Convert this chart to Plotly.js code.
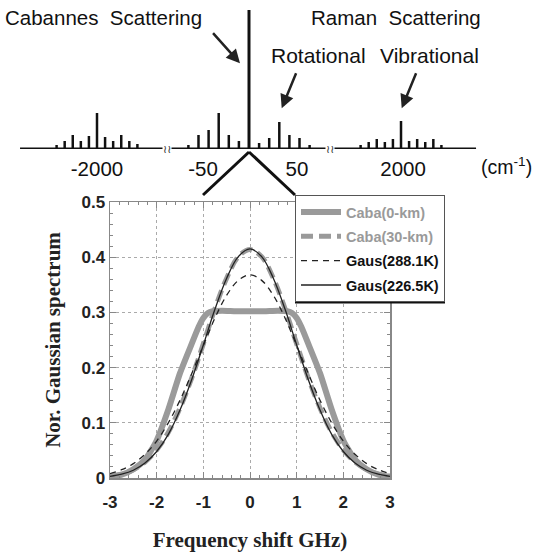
<!DOCTYPE html>
<html>
<head>
<meta charset="utf-8">
<script src="https://cdn.plot.ly/plotly-3.0.1.min.js"></script>
<style>html,body{margin:0;padding:0;background:#fff;}#chart{width:535px;height:560px;}</style>
</head>
<body>
<div id="chart"></div>
<script>
// ---------- main plot data (frequency shift in GHz) ----------
const xCaba0 = [-3,-2.75,-2.5,-2.25,-2,-1.75,-1.5,-1.25,-1.1,-1,-0.9,-0.8,-0.6,-0.3,0,0.3,0.6,0.8,0.9,1,1.1,1.25,1.5,1.75,2,2.25,2.5,2.75,3];
const yCaba0 = [0.002,0.006,0.016,0.033,0.068,0.124,0.19,0.243,0.274,0.29,0.299,0.302,0.303,0.302,0.302,0.302,0.303,0.302,0.299,0.29,0.274,0.243,0.19,0.124,0.068,0.033,0.016,0.006,0.002];
const xGrid = [-3,-2.75,-2.5,-2.25,-2,-1.75,-1.5,-1.25,-1,-0.75,-0.5,-0.25,0,0.25,0.5,0.75,1,1.25,1.5,1.75,2,2.25,2.5,2.75,3];
const yCaba30 = [0.003,0.007,0.015,0.029,0.051,0.083,0.127,0.181,0.243,0.307,0.362,0.401,0.414,0.401,0.362,0.307,0.243,0.181,0.127,0.083,0.051,0.029,0.015,0.007,0.003];
const yGaus288 = [0.008,0.015,0.026,0.043,0.067,0.100,0.141,0.189,0.240,0.290,0.331,0.358,0.368,0.358,0.331,0.290,0.240,0.189,0.141,0.100,0.067,0.043,0.026,0.015,0.008];
const yGaus226 = [0.003,0.007,0.014,0.027,0.048,0.079,0.123,0.178,0.241,0.306,0.362,0.401,0.415,0.401,0.362,0.306,0.241,0.178,0.123,0.079,0.048,0.027,0.014,0.007,0.003];
const seriesNames = ['Caba(0-km)','Caba(30-km)','Gaus(288.1K)','Gaus(226.5K)'];
const xTickVals = [-3,-2,-1,0,1,2,3];
const xTickText = ['-3','-2','-1','0','1','2','3'];

// ---------- schematic spectrum data (schematic units, relative intensity) ----------
const cabPos = [0];
const cabInt = [139];
const rotPos = [-6,-5,-4,-3,-2,-1,1,2,3,4,5,6];
const rotInt = [4,14,19,36,14,8,6,11,27,14,11,4];
const vibOffset = [-5,-4,-3,-2,-1,0,1,2,3,4,5];
const vibLeftInt = [4,8,14,8,13,36,12,8,14,8,5];
const vibRightInt = [4,7,10,7,10,28,8,10,7,10,4];
const vibCenters = [-15.05, 15.05];
const vibSpacing = 0.8;
const specTickVals = [-15.05,-4.55,4.75,15.25];
const specTickText = ['-2000','-50','50','2000'];
const baseSegX = [-22.67,-8.51,null,-7.72,7.62,null,8.32,22.48];
const baseSegY = [0,0,null,0,0,null,0,0];
const breakPos = [-8.1, 7.97];

function sticks(pos, ints){
  const xs=[], ys=[];
  pos.forEach((p,i)=>{xs.push(p,p,null); ys.push(0,ints[i],null);});
  return {x:xs,y:ys};
}
const vibL = sticks(vibOffset.map(o=>vibCenters[0]+o*vibSpacing), vibLeftInt);
const vibR = sticks(vibOffset.map(o=>vibCenters[1]+o*vibSpacing), vibRightInt);
const rot = sticks(rotPos, rotInt);
const cab = sticks(cabPos, cabInt);

const W=535, H=560;
const px = v => v/W, py = v => 1 - v/H;
const sans = 'Liberation Sans, Arial, sans-serif';
const serif = 'Liberation Serif, Times New Roman, serif';

const stickStyle = {color:'#111', width:2.5};
const traces = [
  {x:xCaba0, y:yCaba0, name:'<span style="color:#9a9a9a">'+seriesNames[0]+'</span>', mode:'lines', line:{color:'#9a9a9a', width:6, shape:'spline', smoothing:0.6}, legendgroup:'a'},
  {x:xGrid, y:yCaba30, name:'<span style="color:#9a9a9a">'+seriesNames[1]+'</span>', mode:'lines', line:{color:'#9a9a9a', width:5, dash:'12px,6px', shape:'spline'}, legendgroup:'b'},
  {x:xGrid, y:yGaus288, name:seriesNames[2], mode:'lines', line:{color:'#222', width:1.3, dash:'6px,5px', shape:'spline'}, legendgroup:'c'},
  {x:xGrid, y:yGaus226, name:seriesNames[3], mode:'lines', line:{color:'#222', width:1.3, shape:'spline'}, legendgroup:'d'},
  {x:baseSegX, y:baseSegY, xaxis:'x2', yaxis:'y2', mode:'lines', line:{color:'#111', width:3}, showlegend:false, hoverinfo:'skip'},
  {x:vibL.x, y:vibL.y, xaxis:'x2', yaxis:'y2', mode:'lines', line:stickStyle, showlegend:false, hoverinfo:'skip'},
  {x:rot.x, y:rot.y, xaxis:'x2', yaxis:'y2', mode:'lines', line:stickStyle, showlegend:false, hoverinfo:'skip'},
  {x:cab.x, y:cab.y, xaxis:'x2', yaxis:'y2', mode:'lines', line:{color:'#111', width:3}, showlegend:false, hoverinfo:'skip'},
  {x:vibR.x, y:vibR.y, xaxis:'x2', yaxis:'y2', mode:'lines', line:stickStyle, showlegend:false, hoverinfo:'skip'}
];

const txt = (t,x,y,size,anchor)=>({text:t, x:px(x), y:py(y), xref:'paper', yref:'paper', showarrow:false, font:{family:sans, size:size, color:'#111'}, xanchor:anchor||'center', yanchor:'middle'});
const arrow = (hx,hy,tx,ty)=>({text:'', x:px(hx), y:py(hy), xref:'paper', yref:'paper', ax:tx-hx, ay:ty-hy, axref:'pixel', ayref:'pixel', showarrow:true, arrowhead:2, arrowsize:1.1, arrowwidth:2.5, arrowcolor:'#222', standoff:0, startstandoff:0});

const annotations = [
  txt('Cabannes\u00a0\u00a0Scattering',103,17,20.5),
  txt('Raman\u00a0\u00a0Scattering',396,17,20.5),
  txt('Rotational',318,56,21),
  txt('Vibrational',429,56,21),
  txt('(cm<sup>-1</sup>)',534,166,19.5,'right'),
  arrow(240,63.3,211.7,31.7),
  arrow(281.7,108.3,296.7,71.7),
  arrow(401.7,108.3,416.7,71.7)
].concat(breakPos.map(b=>({text:'\u2240\u2240', x:b, y:0, xref:'x2', yref:'y2', showarrow:false, font:{family:'DejaVu Sans', size:11, color:'#333'}, bgcolor:'#fff', borderpad:0, xanchor:'center', yanchor:'middle'})));

const shapes = [
  {type:'line', xref:'paper', yref:'paper', x0:px(249), y0:py(152), x1:px(203), y1:py(195), line:{color:'#111', width:3}},
  {type:'line', xref:'paper', yref:'paper', x0:px(249), y0:py(152), x1:px(295), y1:py(195), line:{color:'#111', width:3}},
  {type:'line', xref:'paper', yref:'paper', x0:px(295), y0:py(302), x1:px(445), y1:py(302), line:{color:'#111', width:3}, layer:'above'}
];

const axisCommon = {
  showline:true, linecolor:'#888', linewidth:1.5, mirror:'allticks',
  ticks:'inside', ticklen:6, tickcolor:'#888', tickwidth:1,
  showgrid:true, gridcolor:'#aaa', griddash:'dot', gridwidth:1,
  zeroline:false, automargin:false,
  tickfont:{family:sans, size:17, weight:'bold', color:'#222'}
};

const layout = {
  width:W, height:H, margin:{l:0,r:0,t:0,b:0},
  paper_bgcolor:'#fff', plot_bgcolor:'#fff',
  xaxis:Object.assign({}, axisCommon, {domain:[px(110), px(390)], range:[-3,3], tickvals:xTickVals, ticktext:xTickText,
    ticklabelstandoff:8,
    minor:{dtick:0.2, ticks:'inside', ticklen:3, tickcolor:'#888', showgrid:false},
    title:{text:'Frequency shift GHz)', standoff:21, font:{family:serif, size:21, weight:'bold', color:'#222'}}}),
  yaxis:Object.assign({}, axisCommon, {domain:[py(478), py(202)], range:[0,0.5], dtick:0.1,
    minor:{dtick:0.02, ticks:'inside', ticklen:3, tickcolor:'#888', showgrid:false},
    title:{text:'Nor. Gaussian spectrum', standoff:15, font:{family:serif, size:21, weight:'bold', color:'#222'}}}),
  xaxis2:{domain:[0,1], range:[-249/10.1, 286/10.1], anchor:'y2', showgrid:false, zeroline:false, showline:false, ticks:'',
    ticklabelstandoff:5,
    tickvals:specTickVals, ticktext:specTickText, tickfont:{family:sans, size:20.5, color:'#111'}, automargin:false, fixedrange:true},
  yaxis2:{domain:[py(149), 1], range:[0,149], anchor:'x2', visible:false, fixedrange:true},
  showlegend:true,
  legend:{x:px(295), y:py(195), xanchor:'left', yanchor:'top', bgcolor:'#fff', bordercolor:'#555', borderwidth:1,
    font:{family:sans, size:14.5, weight:'bold', color:'#111'}, itemwidth:40, tracegroupgap:2.5},
  annotations:annotations, shapes:shapes
};

Plotly.newPlot('chart', traces, layout, {displayModeBar:false, staticPlot:true});
</script>
</body>
</html>
